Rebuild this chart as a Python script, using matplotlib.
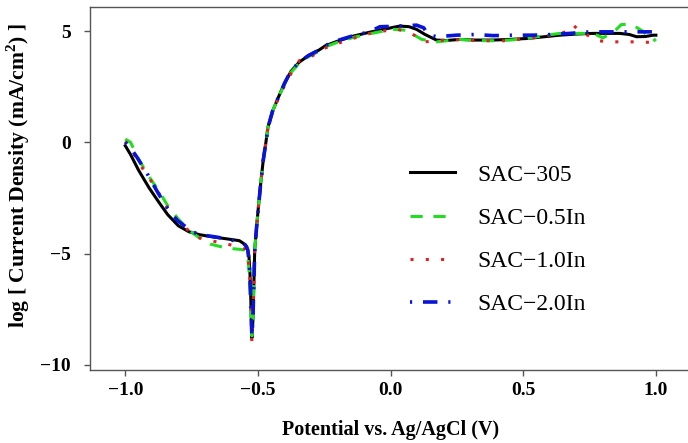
import numpy as np
import matplotlib
matplotlib.use("Agg")
import matplotlib.pyplot as plt

plt.rcParams['font.family'] = ['Liberation Serif', 'DejaVu Serif']
plt.rcParams['mathtext.fontset'] = 'custom'
plt.rcParams['mathtext.rm'] = 'Liberation Serif'
plt.rcParams['mathtext.bf'] = 'Liberation Serif:bold'

# potential (V) and log current density
x_305 = [-1.0, -0.98, -0.95, -0.91, -0.87, -0.84, -0.80, -0.76, -0.72, -0.67, -0.61, -0.57,
         -0.556, -0.542, -0.534, -0.530, -0.527, -0.525, -0.523, -0.519, -0.515, -0.512,
         -0.505, -0.499, -0.490, -0.480, -0.470, -0.462, -0.445, -0.424, -0.400, -0.375,
         -0.345, -0.31, -0.27, -0.245, -0.20, -0.14, -0.08, -0.02, 0.035, 0.07, 0.098,
         0.13, 0.173, 0.21, 0.261, 0.32, 0.387, 0.45, 0.513, 0.58, 0.638, 0.70, 0.764,
         0.82, 0.864, 0.90, 0.927, 0.96, 0.99, 1.0]
y_305 = [-0.15, -0.55, -1.25, -2.05, -2.75, -3.25, -3.75, -4.02, -4.15, -4.25, -4.35, -4.42,
         -4.53, -4.69, -5.1, -5.9, -7.0, -8.0, -8.8, -8.0, -6.2, -4.8,
         -3.8, -3.0, -1.9, -0.8, 0.0, 0.7, 1.4, 2.0, 2.65, 3.2,
         3.6, 3.9, 4.15, 4.35, 4.55, 4.78, 4.95, 5.1, 5.23, 5.2, 5.08,
         4.85, 4.6, 4.58, 4.63, 4.6, 4.6, 4.63, 4.67, 4.75, 4.82, 4.87, 4.9,
         4.9, 4.9, 4.85, 4.75, 4.76, 4.82, 4.82]

x_05 = [-1.0, -0.98, -0.95, -0.91, -0.87, -0.84, -0.80, -0.76, -0.72, -0.68, -0.63, -0.594,
        -0.56, -0.549, -0.538, -0.532, -0.528, -0.525, -0.523, -0.519, -0.515, -0.512,
        -0.505, -0.499, -0.490, -0.480, -0.470, -0.462, -0.445, -0.424, -0.400, -0.375,
        -0.345, -0.31, -0.27, -0.245, -0.20, -0.14, -0.08, -0.02, 0.01, 0.05, 0.079,
        0.117, 0.173, 0.22, 0.261, 0.32, 0.387, 0.45, 0.513, 0.588, 0.638, 0.70, 0.764,
        0.80, 0.84, 0.87, 0.91, 0.95, 0.99, 1.0]
y_05 = [0.15, 0.0, -0.75, -1.55, -2.25, -2.85, -3.45, -3.95, -4.3, -4.57, -4.72, -4.78,
        -4.82, -4.85, -5.2, -6.0, -7.0, -8.0, -8.7, -8.0, -6.2, -4.8,
        -3.8, -3.0, -1.9, -0.8, 0.0, 0.7, 1.4, 2.0, 2.6, 3.15,
        3.55, 3.85, 4.1, 4.3, 4.5, 4.72, 4.88, 5.02, 5.08, 5.05, 4.9,
        4.63, 4.52, 4.58, 4.63, 4.58, 4.57, 4.6, 4.67, 4.82, 4.9, 4.9, 4.9,
        4.7, 4.95, 5.3, 5.3, 5.0, 4.55, 4.65]

x_10 = [-1.0, -0.98, -0.95, -0.91, -0.87, -0.84, -0.80, -0.76, -0.719, -0.68, -0.632, -0.59,
        -0.561, -0.548, -0.537, -0.531, -0.527, -0.525, -0.523, -0.519, -0.515, -0.512,
        -0.505, -0.499, -0.490, -0.480, -0.470, -0.462, -0.445, -0.424, -0.400, -0.375,
        -0.342, -0.31, -0.27, -0.245, -0.20, -0.14, -0.078, -0.02, 0.028, 0.079,
        0.125, 0.17, 0.224, 0.28, 0.337, 0.437, 0.55, 0.60, 0.645, 0.672, 0.69, 0.71, 0.73,
        0.78, 0.83, 0.88, 0.93, 0.99, 1.0]
y_10 = [0.05, -0.25, -0.9, -1.6, -2.35, -2.95, -3.55, -3.98, -4.3, -4.42, -4.52, -4.65,
        -4.75, -4.8, -5.2, -6.0, -7.0, -8.0, -8.95, -8.0, -6.2, -4.8,
        -3.8, -3.0, -1.9, -0.8, 0.0, 0.7, 1.35, 1.95, 2.55, 3.1,
        3.7, 3.8, 4.05, 4.25, 4.45, 4.68, 4.9, 5.02, 5.08, 4.9,
        4.52, 4.55, 4.63, 4.6, 4.57, 4.57, 4.72, 4.82, 4.92, 5.0, 5.27, 5.0, 4.9,
        4.57, 4.52, 4.52, 4.52, 4.49, 4.49]

x_20 = [-1.0, -0.98, -0.957, -0.92, -0.88, -0.845, -0.805, -0.745, -0.70, -0.655, -0.61,
        -0.568, -0.548, -0.538, -0.532, -0.528, -0.525, -0.523, -0.519, -0.515, -0.512,
        -0.505, -0.499, -0.490, -0.480, -0.470, -0.462, -0.445, -0.424, -0.400, -0.375,
        -0.345, -0.31, -0.27, -0.245, -0.20, -0.14, -0.08, -0.04, 0.02, 0.06, 0.098,
        0.125, 0.14, 0.173, 0.249, 0.318, 0.387, 0.462, 0.538, 0.61, 0.676, 0.751, 0.82,
        0.90, 0.965, 1.0]
y_20 = [0.0, -0.25, -0.65, -1.35, -2.2, -2.9, -3.5, -4.04, -4.18, -4.26, -4.36,
        -4.48, -4.6, -4.84, -5.6, -6.8, -7.9, -8.7, -8.0, -6.2, -4.84,
        -3.8, -3.04, -1.9, -0.8, 0.0, 0.67, 1.4, 2.0, 2.65, 3.23,
        3.6, 3.9, 4.15, 4.36, 4.58, 4.8, 4.97, 5.2, 5.22, 5.25, 5.27,
        5.15, 4.85, 4.75, 4.82, 4.85, 4.8, 4.82, 4.82, 4.85, 4.9, 4.97, 4.97,
        4.97, 4.97, 4.97]

labels = ["SAC\u2212305", "SAC\u22120.5In", "SAC\u22121.0In", "SAC\u22122.0In"]

fig = plt.figure(figsize=(6.88, 4.43), dpi=100)
ax = fig.add_axes([90 / 688, 1 - 369.7 / 443, 1 - 90 / 688, (369.7 - 6.7) / 443])

lw = 2.2
ax.plot(x_305, y_305, color='black', lw=lw, label=labels[0])
ax.plot(x_05, y_05, color='#22dd22', lw=lw, dashes=(4, 3.5), label=labels[1])
ax.plot(x_10, y_10, color='#dd2222', lw=lw, dashes=(1, 4), label=labels[2])
ax.plot(x_20, y_20, color='#0a14d8', lw=lw + 0.4, dashes=(0.6, 3, 4, 3), label=labels[3])

ax.set_xlim(-1.133, 1.121)
ax.set_ylim(-10.22, 6.10)
ax.set_xticks([-1.0, -0.5, 0.0, 0.5, 1.0])
ax.set_xticklabels(["\u22121.0", "\u22120.5", "0.0", "0.5", "1.0"])
ax.set_yticks([-10, -5, 0, 5])
ax.set_yticklabels(["\u221210", "\u22125", "0", "5"])

for s in ['left', 'bottom', 'top']:
    ax.spines[s].set_color('#555555')
    ax.spines[s].set_linewidth(1.0)
ax.spines['right'].set_visible(False)
ax.tick_params(direction='out', length=4, width=1.0, color='#555555', pad=5)
ax.tick_params(axis='y', pad=10)
for t in ax.get_xticklabels() + ax.get_yticklabels():
    t.set_fontsize(14)
    t.set_fontweight('bold')

ax.set_xlabel("Potential vs. Ag/AgCl (V)", fontsize=14.5, fontweight='bold')
ax.xaxis.set_label_coords(0.503, -0.139)
ax.set_ylabel("log [ Current Density (mA/cm$^{\\mathbf{2}}$) ]", fontsize=15.6, fontweight='bold')
ax.yaxis.set_label_coords(-0.097, 0.534)

ax.legend(loc='upper left', bbox_to_anchor=(0.50, 0.625), frameon=False, fontsize=17,
          handlelength=1.9, handletextpad=0.95, labelspacing=0.92)

fig.savefig("out.png", dpi=100)
